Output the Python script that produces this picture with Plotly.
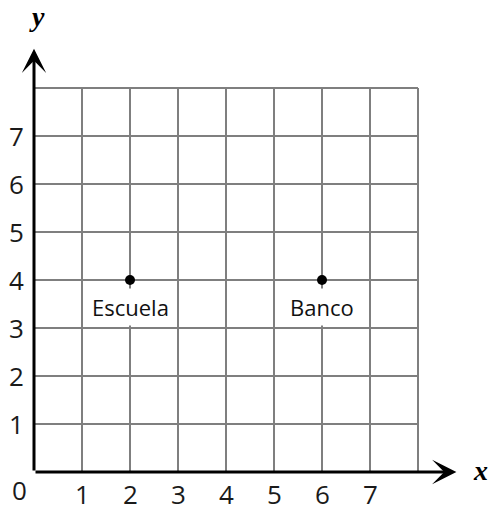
import plotly.graph_objects as go

# grid goes from 0 to 8 in both directions
grid_x = [1, 2, 3, 4, 5, 6, 7, 8]
grid_y = [1, 2, 3, 4, 5, 6, 7, 8]
tick_x = [1, 2, 3, 4, 5, 6, 7]
tick_y = [1, 2, 3, 4, 5, 6, 7]

place_names = ["Escuela", "Banco"]
place_x = [2, 6]
place_y = [4, 4]

GRID_MAX = 8
ARROW_TIP = 8.8

fig = go.Figure()

# grey grid lines
for gx in grid_x:
    fig.add_shape(type="line", x0=gx, x1=gx, y0=0, y1=GRID_MAX,
                  line=dict(color="#7f7f7f", width=2), layer="below")
for gy in grid_y:
    fig.add_shape(type="line", x0=0, x1=GRID_MAX, y0=gy, y1=gy,
                  line=dict(color="#7f7f7f", width=2), layer="below")

# axes with arrowheads
fig.add_annotation(x=ARROW_TIP, y=0, ax=0, ay=0, xref="x", yref="y",
                   axref="x", ayref="y", text="", showarrow=True,
                   arrowhead=3, arrowsize=1.35, arrowwidth=3, arrowcolor="black")
fig.add_annotation(x=0, y=ARROW_TIP + 0.02, ax=0, ay=0, xref="x", yref="y",
                   axref="x", ayref="y", text="", showarrow=True,
                   arrowhead=3, arrowsize=1.35, arrowwidth=3, arrowcolor="black")

# the two places
fig.add_trace(go.Scatter(x=place_x, y=place_y, mode="markers",
                         marker=dict(color="black", size=10),
                         hoverinfo="skip", showlegend=False))
for name, px, py in zip(place_names, place_x, place_y):
    fig.add_annotation(x=px, y=py - 0.56, text=name, showarrow=False,
                       bgcolor="white", borderpad=3,
                       font=dict(family="Open Sans", size=22, color="#111"))

tick_font = dict(family="Open Sans", size=26, color="#1a1a1a")
for t in tick_x:
    fig.add_annotation(x=t, y=-0.45, text=str(t), showarrow=False, font=tick_font)
for t in tick_y:
    fig.add_annotation(x=-0.37, y=t, text=str(t), showarrow=False, font=tick_font)
fig.add_annotation(x=-0.31, y=-0.37, text="0", showarrow=False, font=tick_font)

label_font = dict(family="Liberation Serif", size=28, color="black")
fig.add_annotation(x=0.06, y=9.48, text="<b><i>y</i></b>", showarrow=False, font=label_font)
fig.add_annotation(x=9.3, y=0.04, text="<b><i>x</i></b>", showarrow=False, font=label_font)

fig.update_layout(
    width=490, height=506,
    margin=dict(l=0, r=0, t=0, b=0),
    plot_bgcolor="white", paper_bgcolor="white",
    xaxis=dict(range=[-34 / 48, 456 / 48], visible=False, fixedrange=True),
    yaxis=dict(range=[-34 / 48, 472 / 48], visible=False, fixedrange=True),
    showlegend=False,
)

fig.write_html(
    "out.html",
    config={"displayModeBar": False},
    post_script="document.body.style.margin='0';document.body.style.overflow='hidden';",
)
